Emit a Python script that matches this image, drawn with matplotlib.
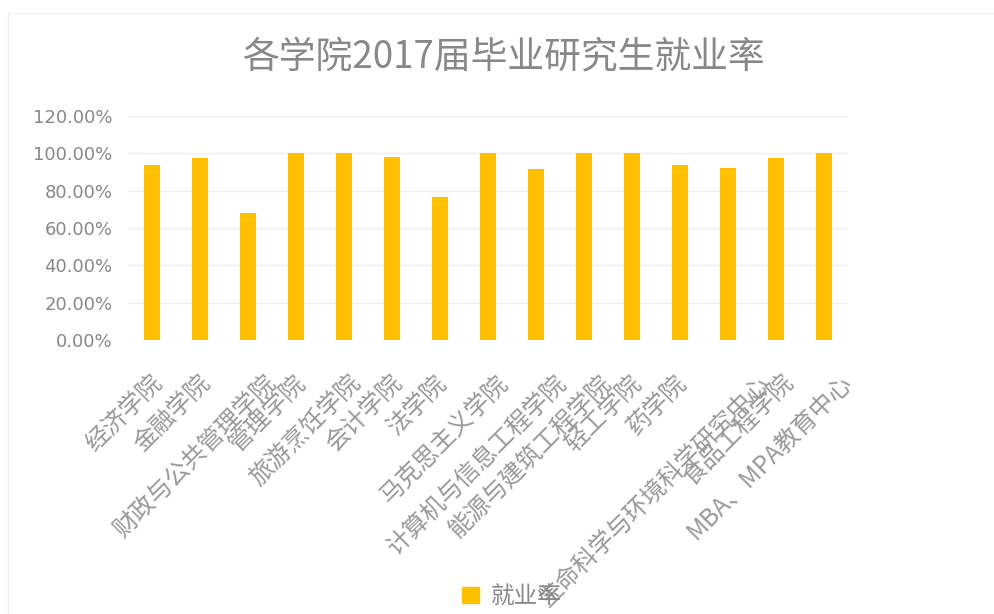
import matplotlib
matplotlib.use("Agg")
import matplotlib.pyplot as plt
import matplotlib.patches as mpatches
from matplotlib.ticker import FuncFormatter, MultipleLocator
from matplotlib.transforms import offset_copy, blended_transform_factory

plt.rcParams['font.family'] = ['Noto Sans CJK SC', 'DejaVu Sans']

colleges = ['经济学院', '金融学院', '财政与公共管理学院', '管理学院', '旅游烹饪学院',
            '会计学院', '法学院', '马克思主义学院', '计算机与信息工程学院',
            '能源与建筑工程学院', '轻工学院', '药学院', '生命科学与环境科学研究中心',
            '食品工程学院', 'MBA、MPA教育中心']
rates = [0.936, 0.975, 0.679, 1.0, 1.0, 0.980, 0.766, 1.0, 0.916,
         1.0, 1.0, 0.936, 0.921, 0.977, 1.0]

text_color = '#888888'
label_color = '#999999'
bar_color = '#FFC000'

fig = plt.figure(figsize=(9.95, 6.14), dpi=100)
ax = fig.add_axes([0.1286, 0.4463, 0.7236, 0.3648])

x = list(range(len(colleges)))
ax.bar(x, rates, width=0.32, color=bar_color, zorder=3, label='就业率')

ax.set_xlim(-0.5, len(colleges) - 0.5)
ax.set_ylim(0, 1.2)
ax.yaxis.set_major_locator(MultipleLocator(0.2))
ax.yaxis.set_major_formatter(FuncFormatter(lambda v, p: f'{v * 100:.2f}%'))
ax.grid(axis='y', color='#EEEEEE', linewidth=1, zorder=0)
for s in ax.spines.values():
    s.set_visible(False)
ax.tick_params(axis='y', length=0, pad=11, labelsize=13, labelcolor=text_color)
for lbl in ax.get_yticklabels():
    lbl.set_family(['DejaVu Sans'])
ax.set_xticks(x)
ax.set_xticklabels([])
ax.tick_params(axis='x', length=0)

# rotated category labels, shifted right a little more for longer names
renderer = fig.canvas.get_renderer()
base = blended_transform_factory(ax.transData, ax.transAxes)
label_size = 17.5
for i, name in enumerate(colleges):
    probe = fig.text(0, 0, name, fontsize=label_size)
    width = probe.get_window_extent(renderer).width
    probe.remove()
    dx = -8 + 0.145 * width
    tr = offset_copy(base, fig=fig, x=dx, y=-39, units='dots')
    ax.text(i, 0, name, transform=tr, rotation=45, rotation_mode='anchor',
            ha='right', va='center', fontsize=label_size, color=label_color)

fig.text(0.507, 0.906, '各学院2017届毕业研究生就业率', ha='center', va='center',
         fontsize=26.5, color=text_color)

handle = mpatches.Patch(color=bar_color, label='就业率')
fig.legend(handles=[handle], loc='center', bbox_to_anchor=(0.5146, 0.0277),
           frameon=False, fontsize=17, handlelength=0.7, handleheight=0.7,
           handletextpad=0.5, labelcolor=text_color)

# faint chart border
fig.patches.append(mpatches.Rectangle((8 / 995, -0.1), 1.2, 1 - 13 / 614 + 0.1,
                                      transform=fig.transFigure, fill=False,
                                      edgecolor='#EFEFEF', linewidth=1))

fig.savefig('out.png', dpi=100)
